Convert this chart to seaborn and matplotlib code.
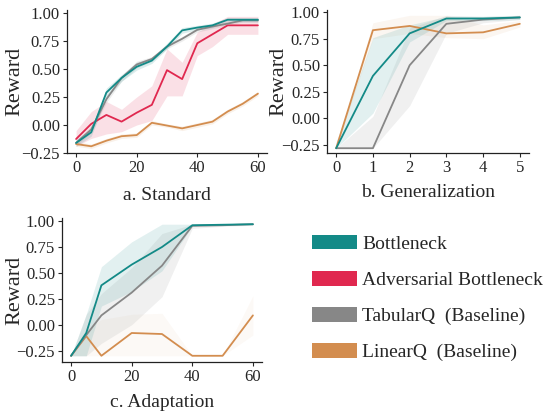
import numpy as np
import pandas as pd
import seaborn as sns
import matplotlib.pyplot as plt
from matplotlib.patches import Patch

# colours
teal = '#138a87'
red = '#e0284f'
gray = '#878787'
orange = '#d38d4f'

# a. Standard
x_std = [0, 5, 10, 15, 20, 25, 30, 35, 40, 45, 50, 55, 60]
std_bottleneck = [-0.16, -0.065, 0.29, 0.42, 0.52, 0.575, 0.70, 0.845, 0.87, 0.89, 0.94, 0.94, 0.94]
std_bottleneck_lo = [-0.19, -0.10, 0.24, 0.39, 0.49, 0.55, 0.68, 0.82, 0.85, 0.87, 0.92, 0.92, 0.92]
std_bottleneck_hi = [-0.13, -0.03, 0.33, 0.45, 0.56, 0.60, 0.73, 0.87, 0.89, 0.91, 0.96, 0.96, 0.96]
std_adv = [-0.125, 0.01, 0.09, 0.03, 0.11, 0.18, 0.49, 0.41, 0.73, 0.81, 0.89, 0.89, 0.89]
std_adv_lo = [-0.19, -0.12, -0.08, -0.06, 0.00, 0.04, 0.26, 0.26, 0.62, 0.70, 0.81, 0.81, 0.81]
std_adv_hi = [-0.05, 0.12, 0.21, 0.14, 0.25, 0.35, 0.68, 0.56, 0.83, 0.90, 0.97, 0.97, 0.97]
std_tabular = [-0.16, -0.04, 0.23, 0.42, 0.54, 0.59, 0.70, 0.77, 0.85, 0.88, 0.905, 0.935, 0.935]
std_tabular_lo = [-0.18, -0.07, 0.20, 0.39, 0.51, 0.57, 0.68, 0.75, 0.83, 0.86, 0.89, 0.92, 0.92]
std_tabular_hi = [-0.14, -0.01, 0.26, 0.44, 0.57, 0.61, 0.72, 0.79, 0.87, 0.90, 0.92, 0.95, 0.95]
std_linear = [-0.17, -0.19, -0.14, -0.10, -0.09, 0.02, -0.005, -0.03, 0.00, 0.03, 0.12, 0.19, 0.28]
std_linear_lo = [-0.19, -0.21, -0.16, -0.12, -0.11, 0.00, -0.02, -0.05, -0.02, 0.01, 0.10, 0.17, 0.26]
std_linear_hi = [-0.15, -0.17, -0.12, -0.08, -0.07, 0.04, 0.01, -0.01, 0.02, 0.05, 0.14, 0.21, 0.30]

# b. Generalization
x_gen = [0, 1, 2, 3, 4, 5]
gen_bottleneck = [-0.28, 0.40, 0.80, 0.94, 0.94, 0.95]
gen_bottleneck_lo = [-0.28, 0.05, 0.72, 0.92, 0.92, 0.93]
gen_bottleneck_hi = [-0.22, 0.76, 0.88, 0.96, 0.96, 0.97]
gen_tabular = [-0.28, -0.28, 0.50, 0.89, 0.93, 0.95]
gen_tabular_lo = [-0.28, -0.28, 0.12, 0.80, 0.90, 0.93]
gen_tabular_hi = [-0.28, 0.02, 0.85, 0.97, 0.96, 0.97]
gen_linear = [-0.28, 0.83, 0.87, 0.80, 0.81, 0.89]
gen_linear_lo = [-0.28, 0.75, 0.80, 0.76, 0.75, 0.86]
gen_linear_hi = [-0.28, 0.90, 0.97, 0.97, 0.88, 0.92]

# c. Adaptation
x_ada = [0, 5, 10, 20, 30, 40, 50, 60]
ada_bottleneck = [-0.30, -0.08, 0.38, 0.58, 0.75, 0.96, 0.965, 0.97]
ada_bottleneck_lo = [-0.30, -0.30, 0.18, 0.32, 0.52, 0.95, 0.96, 0.965]
ada_bottleneck_hi = [-0.30, 0.10, 0.56, 0.80, 0.97, 0.97, 0.97, 0.975]
ada_tabular = [-0.30, -0.10, 0.09, 0.31, 0.57, 0.955, 0.96, 0.97]
ada_tabular_lo = [-0.30, -0.30, -0.18, 0.00, 0.27, 0.93, 0.95, 0.96]
ada_tabular_hi = [-0.30, 0.10, 0.30, 0.55, 0.88, 0.97, 0.97, 0.975]
ada_linear = [-0.30, -0.11, -0.30, -0.08, -0.09, -0.30, -0.30, 0.09]
ada_linear_lo = [-0.30, -0.30, -0.30, -0.30, -0.30, -0.30, -0.30, -0.10]
ada_linear_hi = [-0.30, -0.05, 0.05, 0.10, 0.11, -0.30, -0.30, 0.28]

legend_labels = ['Bottleneck', 'Adversarial Bottleneck', 'TabularQ  (Baseline)', 'LinearQ  (Baseline)']

sns.set_style('ticks')
plt.rcParams['font.family'] = ['Liberation Serif', 'DejaVu Serif']
plt.rcParams['axes.unicode_minus'] = True


def draw_series(ax, x, y, lo, hi, color, band_alpha):
    ax.fill_between(x, lo, hi, color=color, alpha=band_alpha, linewidth=0)
    sns.lineplot(x=x, y=y, ax=ax, color=color, linewidth=1.3)


def style_axes(ax, title, xlim, ylim, xticks, ylab_x, xlab_y):
    ax.set_xlim(*xlim)
    ax.set_ylim(*ylim)
    ax.set_xticks(xticks)
    ax.set_yticks([-0.25, 0.0, 0.25, 0.5, 0.75, 1.0])
    ax.set_yticklabels(['−0.25', '0.00', '0.25', '0.50', '0.75', '1.00'])
    ax.set_ylabel('Reward', fontsize=16)
    ax.set_xlabel(title, fontsize=14)
    ax.yaxis.set_label_coords(ylab_x, 0.5)
    ax.xaxis.set_label_coords(0.5, xlab_y)
    ax.tick_params(labelsize=12, length=3, width=0.8, pad=2)
    sns.despine(ax=ax)
    for s in ax.spines.values():
        s.set_linewidth(0.9)
        s.set_color('#222222')


W, H = 543, 412
fig = plt.figure(figsize=(W / 100, H / 100), dpi=100)


def add_ax(left, right, top, bottom):
    return fig.add_axes([left / W, 1 - bottom / H, (right - left) / W, (bottom - top) / H])


ax_a = add_ax(67, 267, 10, 153)
ax_b = add_ax(327, 529, 10, 153)
ax_c = add_ax(62, 262, 218, 362)

draw_series(ax_a, x_std, std_linear, std_linear_lo, std_linear_hi, orange, 0.12)
draw_series(ax_a, x_std, std_adv, std_adv_lo, std_adv_hi, red, 0.14)
draw_series(ax_a, x_std, std_tabular, std_tabular_lo, std_tabular_hi, gray, 0.15)
draw_series(ax_a, x_std, std_bottleneck, std_bottleneck_lo, std_bottleneck_hi, teal, 0.15)
style_axes(ax_a, 'a. Standard', (-3, 63), (-0.25, 1.027), [0, 20, 40, 60], -0.215, -0.235)

draw_series(ax_b, x_gen, gen_linear, gen_linear_lo, gen_linear_hi, orange, 0.08)
draw_series(ax_b, x_gen, gen_tabular, gen_tabular_lo, gen_tabular_hi, gray, 0.12)
draw_series(ax_b, x_gen, gen_bottleneck, gen_bottleneck_lo, gen_bottleneck_hi, teal, 0.12)
style_axes(ax_b, 'b. Generalization', (-0.25, 5.25), (-0.325, 1.02), x_gen, -0.19, -0.22)

draw_series(ax_c, x_ada, ada_linear, ada_linear_lo, ada_linear_hi, orange, 0.05)
draw_series(ax_c, x_ada, ada_tabular, ada_tabular_lo, ada_tabular_hi, gray, 0.12)
draw_series(ax_c, x_ada, ada_bottleneck, ada_bottleneck_lo, ada_bottleneck_hi, teal, 0.12)
style_axes(ax_c, 'c. Adaptation', (-3, 63), (-0.36, 1.03), [0, 20, 40, 60], -0.19, -0.225)

handles = [Patch(facecolor=c, edgecolor='none') for c in [teal, red, gray, orange]]
fig.legend(handles, legend_labels, loc='upper left', bbox_to_anchor=(312 / W, 1 - 235 / H),
           frameon=False, fontsize=14, handlelength=2.3, handleheight=0.77,
           handletextpad=0.28, labelspacing=0.93, borderpad=0, borderaxespad=0)

fig.savefig('out.png', dpi=100)
